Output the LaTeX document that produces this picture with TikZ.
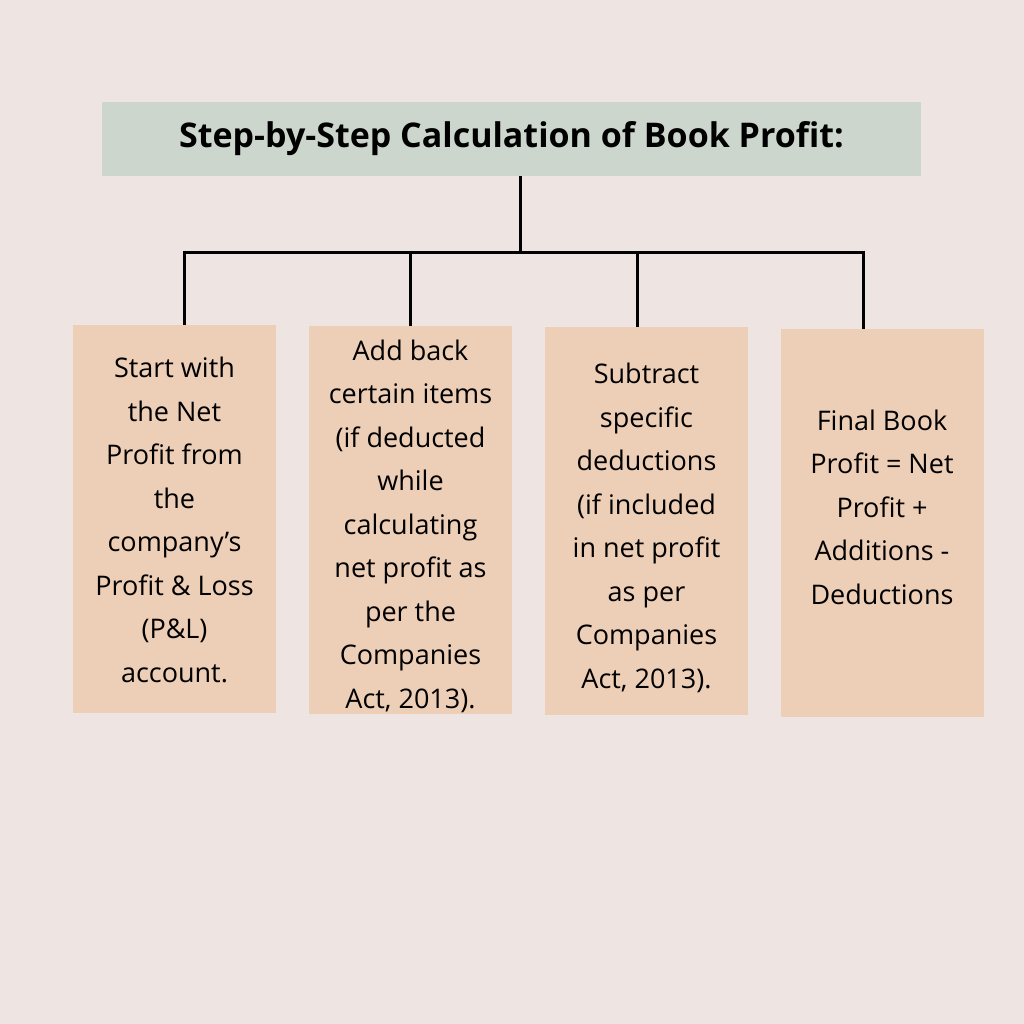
\documentclass[tikz,border=0pt]{standalone}
\usepackage{fontspec}
\setmainfont{Open Sans}
\definecolor{bg}{HTML}{EEE4E1}
\definecolor{ttl}{HTML}{CDD6CD}
\definecolor{peach}{HTML}{EDCEB6}
\begin{document}
\begin{tikzpicture}[x=1pt,y=-1pt,
  boxs/.style={fill=peach,minimum width=203pt,minimum height=388pt,inner sep=0pt},
  txt/.style={align=center,font=\fontsize{27}{43.5}\selectfont,inner sep=0pt},
  conn/.style={line width=3pt}]
\fill[bg] (0,0) rectangle (1024,1024);
\node[fill=ttl,minimum width=819pt,minimum height=74pt,inner sep=0pt,font=\bfseries\fontsize{34}{40}\selectfont] (title) at (511.5,139) {Step-by-Step Calculation of Book Profit:};
\node[boxs] (b1) at (174.5,519) {};
\node[boxs] (b2) at (410.5,520) {};
\node[boxs] (b3) at (646.5,521) {};
\node[boxs] (b4) at (882,522.5) {};
\node[txt] (t1) at (174.5,520) {Start with\\the Net\\Profit from\\the\\company's\\Profit \& Loss\\(P\&L)\\account.};
\node[txt] (t2) at (410.5,526) {Add back\\certain items\\(if deducted\\while\\calculating\\net profit as\\per the\\Companies\\Act, 2013).};
\node[txt] (t3) at (646.5,528) {Subtract\\specific\\deductions\\(if included\\in net profit\\as per\\Companies\\Act, 2013).};
\node[txt] (t4) at (882,507) {Final Book\\Profit = Net\\Profit +\\Additions -\\Deductions};
\coordinate (hub) at (520,252);
\draw[conn] (520,176) -- (hub);
\draw[conn] (184,252) -- (863,252);
\draw[conn] (184,250.5) -- (184,325);
\draw[conn] (410,250.5) -- (410,326);
\draw[conn] (637,250.5) -- (637,327);
\draw[conn] (863,250.5) -- (863,329);
\end{tikzpicture}
\end{document}
